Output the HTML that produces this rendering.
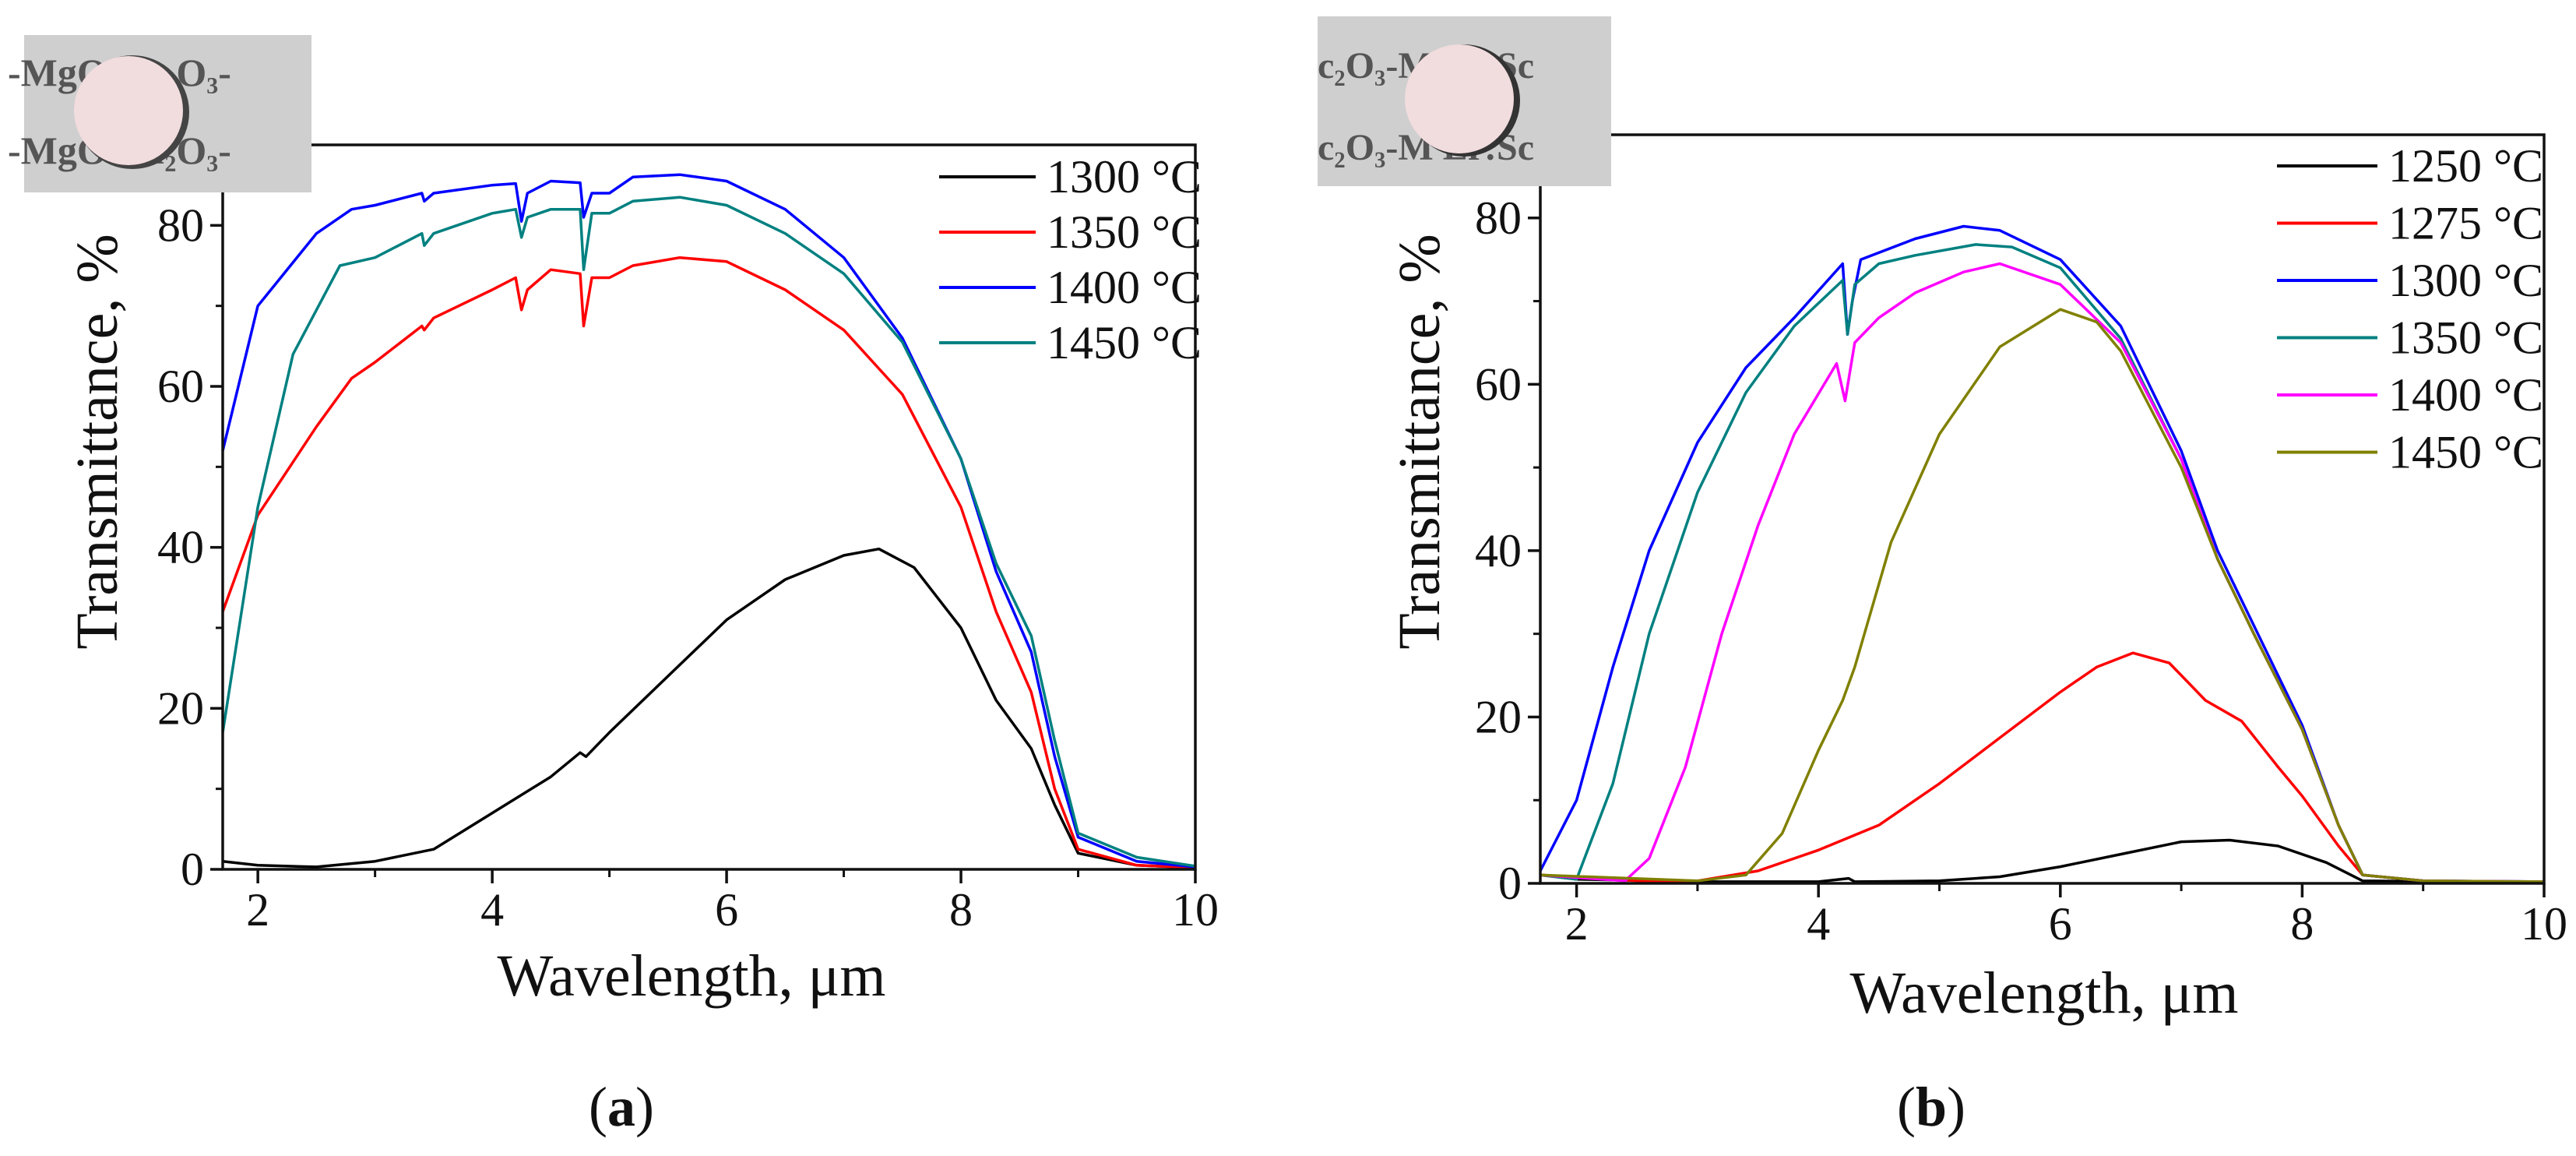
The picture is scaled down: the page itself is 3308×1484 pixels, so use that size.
<!DOCTYPE html>
<html><head><meta charset="utf-8"><style>
body{margin:0;background:#fff;}
svg, svg text{font-family:"Liberation Serif","DejaVu Serif",serif;}
svg text{fill:#111;}
</style></head><body>
<svg id="fig" width="3308" height="1479" viewBox="0 0 3308 1479" font-family="Liberation Serif, serif">
<g id="photoA">
<rect x="31" y="45" width="369" height="202" fill="#cfcfcf"/>
<text x="10" y="110" font-size="50" font-weight="bold" style="fill:#555">-MgO   Lu₂O₃-</text>
<text x="10" y="210" font-size="50" font-weight="bold" style="fill:#555">-MgO   Lu₂O₃-</text>
<circle cx="170" cy="144" r="73" fill="#444"/>
<circle cx="165" cy="142" r="70" fill="#f1dcde"/>
</g>
<g id="photoB">
<rect x="1692" y="21" width="377" height="218" fill="#cfcfcf"/>
<text x="1692" y="100" font-size="48" font-weight="bold" style="fill:#555">c₂O₃-M     Er:Sc</text>
<text x="1692" y="205" font-size="48" font-weight="bold" style="fill:#555">c₂O₃-M     Er:Sc</text>
<circle cx="1880" cy="129" r="72" fill="#333"/>
<circle cx="1874" cy="127" r="70" fill="#f1dcde"/>
</g>
</svg>
<script>
const catA=['1300 °C','1350 °C','1400 °C','1450 °C'];
const colA=['#000','#ff0000','#0000ff','#008080'];
const a1300=[[1.7,1],[2,0.5],[2.5,0.3],[3,1],[3.5,2.5],[4,7],[4.5,11.5],[4.75,14.5],[4.8,14],[5,17],[5.5,24],[6,31],[6.5,36],[7,39],[7.3,39.8],[7.6,37.5],[8,30],[8.3,21],[8.6,15],[8.8,8],[9,2],[9.5,0.5],[10,0.2]];
const a1350=[[1.7,32],[2,44],[2.5,55],[2.8,61],[3,63],[3.4,67.5],[3.42,67],[3.5,68.5],[4,72],[4.2,73.5],[4.25,69.5],[4.3,72],[4.5,74.5],[4.75,74],[4.78,67.5],[4.85,73.5],[5,73.5],[5.2,75],[5.6,76],[6,75.5],[6.5,72],[7,67],[7.5,59],[8,45],[8.3,32],[8.6,22],[8.8,10],[9,2.5],[9.5,0.5],[10,0.2]];
const a1400=[[1.7,52],[2,70],[2.5,79],[2.8,82],[3,82.5],[3.4,84],[3.42,83],[3.5,84],[4,85],[4.2,85.2],[4.25,80.5],[4.3,84],[4.5,85.5],[4.75,85.3],[4.78,81],[4.85,84],[5,84],[5.2,86],[5.6,86.3],[6,85.5],[6.5,82],[7,76],[7.5,66],[8,51],[8.3,37],[8.6,27],[8.8,14],[9,4],[9.5,1],[10,0.3]];
const a1450=[[1.7,17],[2,45],[2.3,64],[2.7,75],[3,76],[3.4,79],[3.42,77.5],[3.5,79],[4,81.5],[4.2,82],[4.25,78.5],[4.3,81],[4.5,82],[4.75,82],[4.78,74.5],[4.85,81.5],[5,81.5],[5.2,83],[5.6,83.5],[6,82.5],[6.5,79],[7,74],[7.5,65.5],[8,51],[8.3,38],[8.6,29],[8.8,16],[9,4.5],[9.5,1.5],[10,0.4]];
const catB=['1250 °C','1275 °C','1300 °C','1350 °C','1400 °C','1450 °C'];
const colB=['#000','#ff0000','#0000ff','#008080','#ff00ff','#808000'];
const b1250=[[1.7,1],[2,0.5],[3,0.2],[4,0.2],[4.25,0.6],[4.3,0.2],[5,0.3],[5.5,0.8],[6,2],[6.5,3.5],[7,5],[7.4,5.2],[7.8,4.5],[8.2,2.5],[8.5,0.3],[10,0.1]];
const b1275=[[1.7,1],[2.5,0.3],[3,0.3],[3.5,1.5],[4,4],[4.5,7],[5,12],[5.5,17.5],[6,23],[6.3,26],[6.6,27.7],[6.9,26.5],[7.2,22],[7.5,19.5],[7.8,14],[8,10.5],[8.3,4.5],[8.5,1],[9,0.3],[10,0.1]];
const b1300=[[1.7,1.5],[2,10],[2.3,26],[2.6,40],[3,53],[3.4,62],[3.8,68],[4.2,74.5],[4.24,66],[4.28,70],[4.35,75],[4.8,77.5],[5.2,79],[5.5,78.5],[6,75],[6.5,67],[7,52],[7.3,40],[7.6,31],[8,19],[8.3,7],[8.5,1],[9,0.3],[10,0.2]];
const b1350=[[1.7,1],[2,0.5],[2.3,12],[2.6,30],[3,47],[3.4,59],[3.8,67],[4.2,72.5],[4.24,66],[4.3,72],[4.5,74.5],[4.8,75.5],[5.3,76.8],[5.6,76.5],[6,74],[6.5,65.5],[7,51],[7.3,39],[7.6,30],[8,18.5],[8.3,7],[8.5,1],[9,0.3],[10,0.2]];
const b1400=[[1.7,1],[2.4,0.3],[2.6,3],[2.9,14],[3.2,30],[3.5,43],[3.8,54],[4.15,62.5],[4.22,58],[4.3,65],[4.5,68],[4.8,71],[5.2,73.5],[5.5,74.5],[6,72],[6.5,65],[7,51],[7.3,39],[7.6,30],[8,18.5],[8.3,7],[8.5,1],[9,0.3],[10,0.2]];
const b1450=[[1.7,1],[3,0.3],[3.4,1],[3.7,6],[4,16],[4.2,22],[4.3,26],[4.6,41],[5,54],[5.5,64.5],[6,69],[6.3,67.5],[6.5,64],[7,50],[7.3,39],[7.6,30],[8,18.5],[8.3,7],[8.5,1],[9,0.3],[10,0.2]];
const xTicks=[2,4,6,8,10];
const yTicks=[0,20,40,60,80];

const NS='http://www.w3.org/2000/svg';
const fig=document.getElementById('fig');
function mk(tag,attrs,parent){const e=document.createElementNS(NS,tag);for(const k in attrs)e.setAttribute(k,attrs[k]);if(tag==='text')e.setAttribute('font-family','Liberation Serif, DejaVu Serif, serif');(parent||fig).appendChild(e);return e;}

function chart(cfg,series,cats,cols,prefix){
  const g=mk('g',{});
  
  
  fig.insertBefore(g,fig.firstChild);
  const X=v=>cfg.x0+(v-1.7)/(10-1.7)*(cfg.x1-cfg.x0);
  const Y=v=>cfg.y0-v/90*(cfg.y0-cfg.y1);
  series.forEach((s,i)=>{
    const p=mk('polyline',{points:s.map(d=>X(d[0]).toFixed(1)+','+Y(d[1]).toFixed(1)).join(' '),fill:'none',stroke:cols[i],'stroke-width':3.5,'stroke-linejoin':'round'},g);
    
    
  });
  const fr=mk('rect',{x:cfg.x0,y:cfg.y1,width:cfg.x1-cfg.x0,height:cfg.y0-cfg.y1,fill:'none',stroke:'#111','stroke-width':3.5},g);
  
  
  xTicks.forEach(t=>{
    mk('line',{x1:X(t),x2:X(t),y1:cfg.y0,y2:cfg.y0+18,stroke:'#111','stroke-width':3.5},g);
    const tx=mk('text',{x:X(t),y:cfg.y0+72,'font-size':60,'text-anchor':'middle'},g);
    tx.textContent=t;
    
    
  });
  [3,5,7,9].forEach(t=>mk('line',{x1:X(t),x2:X(t),y1:cfg.y0,y2:cfg.y0+10,stroke:'#111','stroke-width':3},g));
  yTicks.forEach(t=>{
    mk('line',{x1:cfg.x0-16,x2:cfg.x0,y1:Y(t),y2:Y(t),stroke:'#111','stroke-width':3.5},g);
    const ty=mk('text',{x:cfg.x0-24,y:Y(t)+20,'font-size':60,'text-anchor':'end'},g);
    ty.textContent=t;
    
    
  });
  [10,30,50,70].forEach(t=>mk('line',{x1:cfg.x0-9,x2:cfg.x0,y1:Y(t),y2:Y(t),stroke:'#111','stroke-width':3},g));
  const xt=mk('text',{x:cfg.xtx,y:cfg.xty,'font-size':76,'text-anchor':'middle'},g);
  xt.textContent='Wavelength, μm';
  
  
  const yt=mk('text',{x:0,y:0,'font-size':76,'text-anchor':'middle',transform:`translate(${cfg.ytx},${cfg.yty}) rotate(-90)`},g);
  yt.textContent='Transmittance, %';
  
  
  cats.forEach((c,i)=>{
    const y=cfg.ly+i*cfg.ld;
    const ln=mk('line',{x1:cfg.lx0,x2:cfg.lx1,y1:y,y2:y,stroke:cols[i],'stroke-width':4},g);
    
    
    const t=mk('text',{x:cfg.lx1+14,y:y+20,'font-size':60},g);
    t.textContent=c;
    
    
  });
  const cap=mk('text',{x:cfg.capx,y:cfg.capy,'font-size':72,'text-anchor':'middle'},g);
  cap.innerHTML='(<tspan font-weight="bold">'+cfg.cap+'</tspan>)';
  
  
}
chart({x0:286,x1:1535,y0:1116,y1:186,xtx:888,xty:1278,ytx:150,yty:567,lx0:1206,lx1:1330,ly:227,ld:71,capx:798,capy:1445,cap:'a'},[a1300,a1350,a1400,a1450],catA,colA,'panel-a');
chart({x0:1978,x1:3267,y0:1134,y1:173,xtx:2625,xty:1300,ytx:1848,yty:567,lx0:2924,lx1:3053,ly:213,ld:73.5,capx:2480,capy:1445,cap:'b'},[b1250,b1275,b1300,b1350,b1400,b1450],catB,colB,'panel-b');
</script>
</body></html>
